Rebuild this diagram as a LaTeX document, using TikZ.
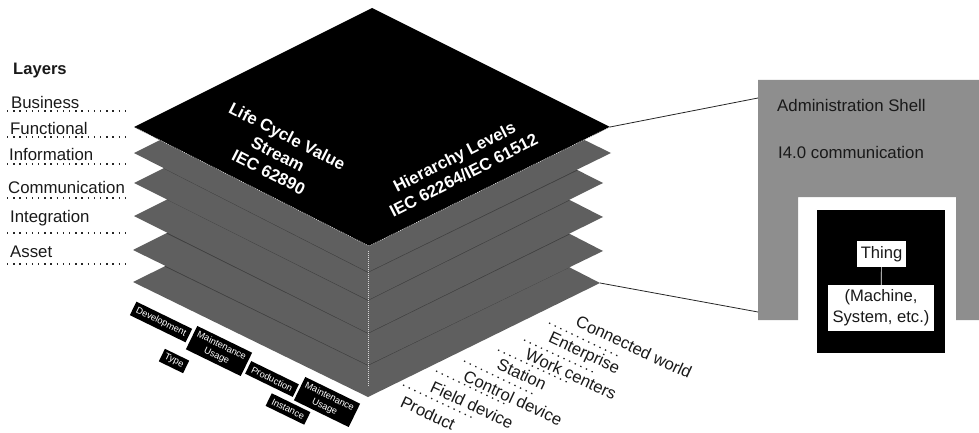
\documentclass[tikz,border=0pt]{standalone}
\usepackage{fontspec}
\setmainfont{Liberation Sans}
\definecolor{layergray}{HTML}{5F5F5F}
\definecolor{layeredge}{HTML}{404040}
\definecolor{shellgray}{HTML}{8E8E8E}
\tikzset{
  x=1pt,y=-1pt,
  layerfill/.style={fill=layergray},
  layerline/.style={draw=layeredge,line width=1.2pt},
  guide/.style={line width=1.3pt,dash pattern=on 1.4pt off 4.8pt,black!85},
  lbl/.style={font=\fontsize{16.8}{20}\selectfont,text=black!90,inner sep=0pt,anchor=base west},
  toptext/.style={font=\bfseries\fontsize{16.8}{20.3}\selectfont,text=white,align=center,inner sep=0pt},
  tag/.style={fill=black,text=white,font=\fontsize{9.3}{11}\selectfont,align=center,inner sep=0pt,rotate=-26},
  axis/.style={font=\fontsize{16.7}{20}\selectfont,text=black!90,inner sep=0pt,rotate=-25,anchor=center},
  whitebox/.style={fill=white,text=black!90,font=\fontsize{16.6}{21}\selectfont,align=center,inner sep=0pt},
  seam/.style={white!85!black,line width=0.6pt,dash pattern=on 1pt off 1pt},
  tieline/.style={black!85,line width=0.8pt}
}
\begin{document}
\begin{tikzpicture}
\useasboundingbox (0,0) rectangle (979,433);
% stacked layers, bottom first
\fill[layerfill] (133,282) -- (368,397) -- (600,283) -- (370,165) -- cycle;
\draw[layerline] (165,266) -- (368,365) -- (569,267);
\fill[layerfill] (133,250) -- (368,365) -- (603,251) -- (370,131) -- cycle;
\draw[layerline] (167,233) -- (368,333) -- (569,234);
\fill[layerfill] (134,216) -- (368,333) -- (603,217) -- (370,98) -- cycle;
\draw[layerline] (167,199) -- (368,300) -- (569,200);
\fill[layerfill] (134,183) -- (368,300) -- (603,183) -- (370,65) -- cycle;
\draw[layerline] (164,168) -- (368,272) -- (577,170);
\fill[layerfill] (134,153) -- (368,272) -- (611,153) -- (370,35) -- cycle;
% top layer
\node[coordinate] (tl) at (134,127) {};
\node[coordinate] (tr) at (610,127) {};
\node[coordinate] (tb) at (369,246) {};
\node[coordinate] (tt) at (372,8) {};
\fill[black] (tl) -- (tt) -- (tr) -- (tb) -- cycle;
\draw[seam] (tl) -- (tb) -- (tr);
\node[coordinate] (va) at (368,251) {};
\node[coordinate] (vb) at (368,387) {};
\draw[seam] (va) -- (vb);
% top labels
\node[toptext,rotate=-27] (lc) at (278,154) {Life Cycle Value\\Stream\\IEC 62890};
\node[toptext,rotate=27] (hl) at (459,166) {Hierarchy Levels\\IEC 62264/IEC 61512};
% layers
\node[lbl,font=\bfseries\fontsize{16.6}{20}\selectfont] (lay) at (13,75) {Layers};
\node[lbl] (l1) at (11,108.5) {Business};
\node[lbl] (l2) at (10,134.5) {Functional};
\node[lbl] (l3) at (9,160) {Information};
\node[lbl] (l4) at (8,193) {Communication};
\node[lbl] (l5) at (10,222) {Integration};
\node[lbl] (l6) at (10,257) {Asset};
\foreach \y in {111,137,164,198,233,264} \draw[guide] (7,\y) -- (130,\y);
% hierarchy axis
\node[axis] (h1) at (428,413) {Product};
\node[axis] (h2) at (472,405) {Field device};
\node[axis] (h3) at (513,398) {Control device};
\node[axis] (h4) at (522,374) {Station};
\node[axis] (h5) at (571,374) {Work centers};
\node[axis] (h6) at (584,354) {Enterprise};
\node[axis] (h7) at (634,347) {Connected world};
\draw[guide] (403,385) -- (475,419);
\draw[guide] (436,371) -- (507,405);
\draw[guide] (464,361) -- (535,395);
\draw[guide] (498,350) -- (569,383);
\draw[guide] (524,340) -- (595,373);
\draw[guide] (549,323) -- (620,357);
% life cycle tags
\node[tag,minimum width=62pt,minimum height=15pt] (d) at (161,322) {Development};
\node[tag,minimum width=61pt,minimum height=26pt] (m1) at (219,351) {Maintenance\\Usage};
\node[tag,minimum width=27pt,minimum height=14pt] (t) at (174,361) {Type};
\node[tag,minimum width=53pt,minimum height=14pt] (p) at (272,379) {Production};
\node[tag,minimum width=61pt,minimum height=26pt] (m2) at (327,402) {Maintenance\\Usage};
\node[tag,minimum width=43pt,minimum height=14pt] (i) at (288,409) {Instance};
% admin shell
\fill[shellgray] (758,80) -- (979,80) -- (979,320) -- (956,320) -- (956,197) -- (798,197) -- (798,320) -- (758,320) -- cycle;
\node[coordinate] (s1) at (758,98) {};
\node[coordinate] (s2) at (758,312) {};
\node[coordinate] (b2) at (600,283) {};
\draw[tieline] (tr) -- (s1);
\draw[tieline] (b2) -- (s2);
\node[lbl] (as) at (777,112) {Administration Shell};
\node[lbl] (i4) at (778,158) {I4.0 communication};
\node[fill=black,minimum width=128pt,minimum height=143pt,inner sep=0pt] (th) at (881,281.5) {};
\node[whitebox,minimum width=49pt,minimum height=26pt] (thing) at (881.5,254) {Thing};
\node[whitebox,minimum width=106pt,minimum height=46pt] (mach) at (881,308) {(Machine,\\System, etc.)};
\draw[white,line width=0.7pt] (thing) -- (mach);
\end{tikzpicture}
\end{document}
